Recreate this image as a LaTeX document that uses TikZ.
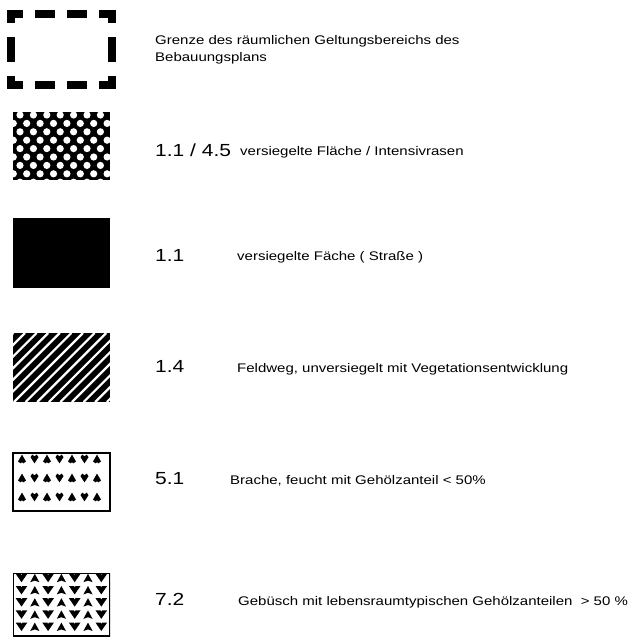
\documentclass[tikz,border=0pt]{standalone}
\usepackage{fontspec}
\setmainfont{Liberation Sans}
\usepackage{graphicx}
\newcommand\wx[1]{\scalebox{1.2}[1]{#1}}
\tikzset{
  lbl/.style={anchor=base west, inner sep=0pt, font=\fontsize{12.5}{15}\selectfont},
  num/.style={anchor=base west, inner sep=0pt, font=\fontsize{17.5}{20}\selectfont},
  frame/.style={draw=black, line width=1.5pt},
  symA/.pic={\fill[scale=1.25] (0,-3.5) -- (3.2,2) -- (1,3.5) -- (0,2.5) -- (-1,3.5) -- (-3.2,2) -- cycle;},
  symV/.pic={\fill[scale=1.25] (0,3.5) -- (3.2,-1.5) -- (1.8,-3.5) -- (0,-2.2) -- (-1.8,-3.5) -- (-3.2,-1.5) -- cycle;},
  bigV/.pic={\fill (-5.8,-4.2) -- (-0.8,-4.2) -- (0,-2.8) -- (0.8,-4.2) -- (5.8,-4.2) -- (0,4.2) -- cycle;},
  bigA/.pic={\fill (0,-4.2) -- (4.6,4.2) -- (0,2.6) -- (-4.6,4.2) -- cycle;},
}
\begin{document}
\begin{tikzpicture}[x=1pt,y=-1pt]
\useasboundingbox (0,0) rectangle (631,637);
\fill[white] (0,0) rectangle (631,637);
% ---- box 1: dashed boundary
\foreach \a/\b in {7/23,35/55,67/87,99/116}{
  \fill (\a,10) rectangle (\b,18);
  \fill (\a,81) rectangle (\b,89);
}
\foreach \a/\b in {10/23,37/62,76/89}{
  \fill (7,\a) rectangle (15,\b);
  \fill (108,\a) rectangle (116,\b);
}
% ---- box 2: crosshatch
\begin{scope}
  \clip (13,112) rectangle (110,180);
  \fill (13,112) rectangle (110,180);
  \foreach \j in {0,...,8}{
    \foreach \i in {-1,...,8}{
      \fill[white] ({20+13.4*\i+mod(\j,2)*6.7},{115+8.4*\j}) circle (3.6);
    }
  }
\end{scope}
% ---- box 3: solid
\fill (13,218) rectangle (110,288);
% ---- box 4: hatch
\begin{scope}
  \clip (13,333) rectangle (110,402);
  \fill (13,333) rectangle (110,402);
  \foreach \k [evaluate=\k as \c using 358+11.6*\k] in {-2,...,14}{
    \draw[white, line width=2.2pt] ({\c-333},333) -- ({\c-402},402);
  }
\end{scope}
% ---- box 5
\draw[frame] (13,453) rectangle (110,511);
\foreach \y in {459,478,497}{
  \foreach \x/\s in {22/symA,34.5/symV,47/symA,59.5/symV,72/symA,84.5/symV,97/symA}{
    \pic at (\x,\y) {\s};
  }
}
% ---- box 6
\begin{scope}
  \clip (13,573) rectangle (110,637);
  \draw[frame] (13,573) rectangle (110,636);
  \foreach \y in {578,590.2,602.4,614.6,626.8}{
    \foreach \x/\s in {21.5/bigV,34.8/bigA,48.1/bigV,61.4/bigA,74.7/bigV,88/bigA,101.3/bigV}{
      \pic at (\x,\y) {\s};
    }
  }
\end{scope}
% ---- texts
\node[lbl] (t1a) at (155,44) {\wx{Grenze des räumlichen Geltungsbereichs des}};
\node[lbl] (t1b) at (155,61) {\wx{Bebauungsplans}};
\node[num] (n2) at (155,156) {\wx{1.1 / 4.5}};
\node[lbl] (t2) at (240,155) {\wx{versiegelte Fläche / Intensivrasen}};
\node[num] (n3) at (155,261) {\wx{1.1}};
\node[lbl] (t3) at (237,260) {\wx{versiegelte Fäche ( Straße )}};
\node[num] (n4) at (155,372) {\wx{1.4}};
\node[lbl] (t4) at (237,372) {\wx{Feldweg, unversiegelt mit Vegetationsentwicklung}};
\node[num] (n5) at (155,484) {\wx{5.1}};
\node[lbl] (t5) at (230,484) {\wx{Brache, feucht mit Gehölzanteil < 50\%}};
\node[num] (n6) at (155,605) {\wx{7.2}};
\node[lbl] (t6) at (238,605) {\wx{Gebüsch mit lebensraumtypischen Gehölzanteilen\ \ > 50 \%}};
\end{tikzpicture}
\end{document}
